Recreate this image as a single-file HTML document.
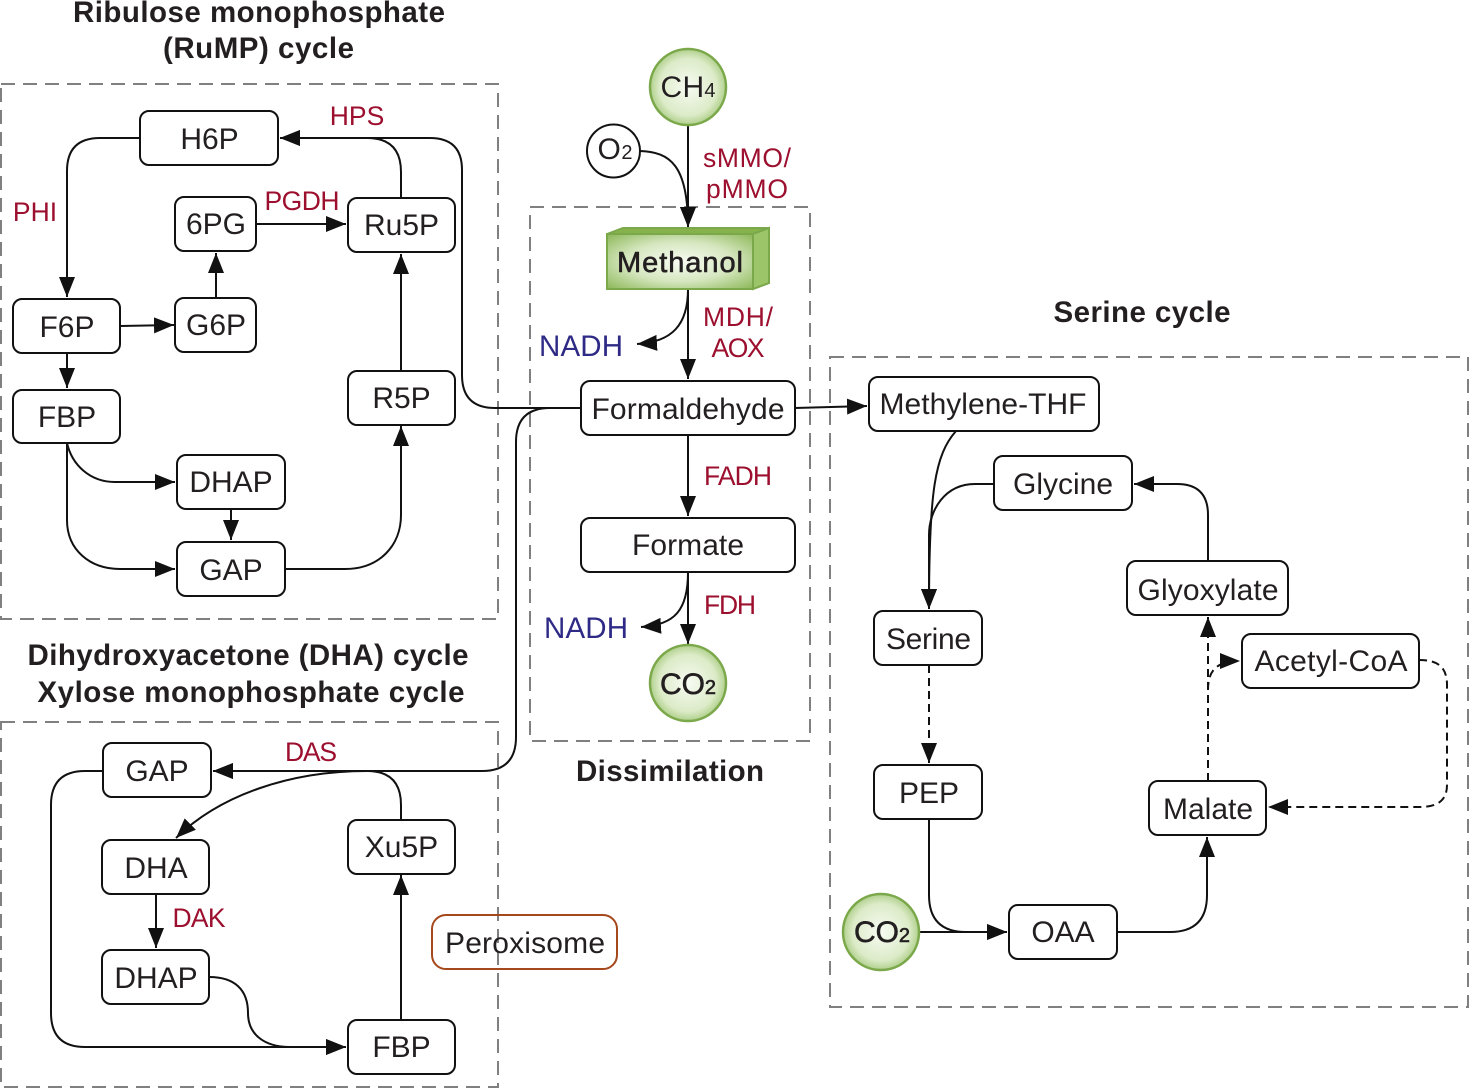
<!DOCTYPE html>
<html><head><meta charset="utf-8">
<style>
html,body{margin:0;padding:0;background:#fff}
svg{display:block}
text{font-family:"Liberation Sans",Arial,sans-serif;fill:#231f20;font-size:30px;text-anchor:middle}
.t{font-weight:bold;font-size:29.5px}
.r{fill:#9c0f2e;font-size:26.5px}
.b{fill:#2e2a86;font-size:29.5px}
.n rect{fill:#fff;stroke:#111;stroke-width:2}
.d{fill:none;stroke:#808080;stroke-width:2;stroke-dasharray:14 8}
.c path{fill:none;stroke:#111;stroke-width:2}
.k path{stroke-dasharray:8 5}
</style></head><body>
<svg width="1469" height="1088" viewBox="0 0 1469 1088" xmlns="http://www.w3.org/2000/svg">
<defs>
<marker id="a" markerUnits="userSpaceOnUse" markerWidth="22" markerHeight="16" refX="20" refY="8" orient="auto"><path d="M0 0L20 8L0 16Z" fill="#111"/></marker>
<radialGradient id="g"><stop offset="0" stop-color="#f8fbf3"/><stop offset=".75" stop-color="#dcebc8"/><stop offset="1" stop-color="#b0d08c"/></radialGradient>
<radialGradient id="m" r=".72"><stop offset="0" stop-color="#f8fbf3"/><stop offset=".5" stop-color="#d6e7c0"/><stop offset="1" stop-color="#88b552"/></radialGradient>
</defs>

<rect class="d" x="1" y="84" width="497" height="535"/>
<rect class="d" x="530" y="207" width="280" height="534"/>
<rect class="d" x="830" y="357" width="638" height="650"/>
<rect class="d" x="1" y="722" width="497" height="365"/>

<g class="c">
<path d="M581 408H495Q462 408 462 375V170Q462 138 430 138H280" marker-end="url(#a)"/>
<path d="M401 198V172Q401 138 367 138H280" marker-end="url(#a)"/>
<path d="M140 138H100Q67 138 67 171V297" marker-end="url(#a)"/>
<path d="M216 298V253" marker-end="url(#a)"/>
<path d="M256 224H346" marker-end="url(#a)"/>
<path d="M120 326L174 325" marker-end="url(#a)"/>
<path d="M67 353V388" marker-end="url(#a)"/>
<path d="M67 443C72 465 90 482 115 482H175" marker-end="url(#a)"/>
<path d="M67 443V520C67 550 90 569 120 569H175" marker-end="url(#a)"/>
<path d="M231 509V540" marker-end="url(#a)"/>
<path d="M285 569H345C380 569 401 545 401 515V426" marker-end="url(#a)"/>
<path d="M401 371V254" marker-end="url(#a)"/>

<path d="M688 122V227" marker-end="url(#a)"/>
<path d="M640 151C670 152 688 165 688 227" marker-end="url(#a)"/>
<path d="M688 289V379" marker-end="url(#a)"/>
<path d="M688 289C688 325 672 342 637 344" marker-end="url(#a)"/>
<path d="M688 435V516" marker-end="url(#a)"/>
<path d="M688 572V644" marker-end="url(#a)"/>
<path d="M688 572C688 610 675 625 641 627" marker-end="url(#a)"/>
<path d="M795 408L867 406" marker-end="url(#a)"/>

<path d="M581 408H550Q516 408 516 442V737Q516 771 482 771H213" marker-end="url(#a)"/>
<path d="M401 820V805Q401 771 367 771H213" marker-end="url(#a)"/>
<path d="M367 771C290 771 220 795 176 838" marker-end="url(#a)"/>
<path d="M103 771H85Q51 771 51 805V1013Q51 1047 85 1047H346" marker-end="url(#a)"/>
<path d="M156 894V948" marker-end="url(#a)"/>
<path d="M209 977C235 977 248 990 248 1013C248 1035 265 1047 290 1047H346" marker-end="url(#a)"/>
<path d="M401 1020V875" marker-end="url(#a)"/>

<path d="M956 431C935 455 929 490 929 609" marker-end="url(#a)"/>
<path d="M994 484H975C945 484 929 510 929 535V609" marker-end="url(#a)"/>
<path d="M1208 561V515Q1208 484 1177 484H1134" marker-end="url(#a)"/>
<path d="M929 819V895Q929 932 966 932H1007" marker-end="url(#a)"/>
<path d="M918 932H1007" marker-end="url(#a)"/>
<path d="M1117 932H1170Q1207 932 1207 895V837" marker-end="url(#a)"/>
</g>
<g class="c k">
<path d="M929 665V763" marker-end="url(#a)"/>
<path d="M1208 781V617" marker-end="url(#a)"/>
<path d="M1208 781V690C1208 672 1215 661 1240 661" marker-end="url(#a)"/>
<path d="M1419 660C1438 660 1447 667 1447 685V785C1447 800 1438 807 1420 807H1268" marker-end="url(#a)"/>
</g>

<g class="n">
<rect x="140" y="111" width="138" height="54" rx="9"/>
<rect x="175" y="197" width="81" height="54" rx="9"/>
<rect x="348" y="198" width="107" height="54" rx="9"/>
<rect x="13" y="299" width="107" height="54" rx="9"/>
<rect x="175" y="298" width="81" height="54" rx="9"/>
<rect x="13" y="390" width="107" height="53" rx="9"/>
<rect x="348" y="371" width="107" height="54" rx="9"/>
<rect x="177" y="455" width="108" height="54" rx="9"/>
<rect x="177" y="542" width="108" height="54" rx="9"/>
<rect x="581" y="381" width="214" height="54" rx="9"/>
<rect x="581" y="518" width="214" height="54" rx="9"/>
<rect x="869" y="377" width="230" height="54" rx="9"/>
<rect x="994" y="456" width="138" height="54" rx="9"/>
<rect x="1127" y="561" width="161" height="54" rx="9"/>
<rect x="874" y="611" width="108" height="54" rx="9"/>
<rect x="1242" y="634" width="177" height="54" rx="9"/>
<rect x="874" y="765" width="108" height="54" rx="9"/>
<rect x="1149" y="781" width="117" height="54" rx="9"/>
<rect x="1009" y="905" width="108" height="54" rx="9"/>
<rect x="103" y="743" width="108" height="54" rx="9"/>
<rect x="348" y="820" width="107" height="54" rx="9"/>
<rect x="102" y="840" width="107" height="54" rx="9"/>
<rect x="102" y="950" width="107" height="54" rx="9"/>
<rect x="348" y="1020" width="107" height="54" rx="9"/>
<rect x="432" y="915" width="185" height="54" rx="14" style="fill:none;stroke:#a5481c"/>
</g>

<circle cx="688" cy="87" r="38" fill="url(#g)" stroke="#7ba84a" stroke-width="2.5"/>
<circle cx="613.5" cy="151" r="26.5" fill="#fff" stroke="#111" stroke-width="2"/>
<circle cx="688" cy="683" r="38" fill="url(#g)" stroke="#7ba84a" stroke-width="2.5"/>
<circle cx="881" cy="932" r="38" fill="url(#g)" stroke="#7ba84a" stroke-width="2.5"/>
<path d="M607 234L623 228H769L753 234Z" fill="#85b24a" stroke="#7ba84a" stroke-width="2"/>
<path d="M753 234L769 228V283L753 289Z" fill="#9cc56a" stroke="#7ba84a" stroke-width="2"/>
<rect x="607" y="234" width="146" height="55" fill="url(#m)" stroke="#7ba84a" stroke-width="2"/>

<text x="259" y="22" class="t" textLength="372">Ribulose monophosphate</text>
<text x="258.5" y="58" class="t" textLength="191">(RuMP) cycle</text>
<text x="248" y="665" class="t" textLength="441">Dihydroxyacetone (DHA) cycle</text>
<text x="251" y="702" class="t" textLength="427">Xylose monophosphate cycle</text>
<text x="1142" y="322" class="t" textLength="177">Serine cycle</text>
<text x="670" y="781" class="t" textLength="188">Dissimilation</text>

<text x="209.5" y="149">H6P</text>
<text x="216" y="234">6PG</text>
<text x="401.5" y="235">Ru5P</text>
<text x="67" y="337">F6P</text>
<text x="216" y="335">G6P</text>
<text x="67" y="427">FBP</text>
<text x="401.5" y="408">R5P</text>
<text x="231" y="492">DHAP</text>
<text x="231" y="580">GAP</text>
<text x="688" y="419" textLength="193">Formaldehyde</text>
<text x="688" y="555" textLength="112">Formate</text>
<text x="983" y="414" textLength="207">Methylene-THF</text>
<text x="1063" y="494" textLength="100">Glycine</text>
<text x="1208" y="600" textLength="141">Glyoxylate</text>
<text x="928.5" y="649" textLength="85">Serine</text>
<text x="1331" y="671" textLength="153">Acetyl-CoA</text>
<text x="929" y="803">PEP</text>
<text x="1208" y="819" textLength="90">Malate</text>
<text x="1063" y="942">OAA</text>
<text x="157" y="781">GAP</text>
<text x="401.5" y="857">Xu5P</text>
<text x="156" y="878">DHA</text>
<text x="156" y="988">DHAP</text>
<text x="401.5" y="1057">FBP</text>
<text x="525" y="953" textLength="160">Peroxisome</text>

<text x="680" y="272" style="font-size:29px" stroke="#231f20" stroke-width=".6" textLength="126">Methanol</text>
<text x="688" y="97" textLength="55">CH<tspan style="font-size:20px">4</tspan></text>
<text x="615" y="159" textLength="35">O<tspan style="font-size:20px">2</tspan></text>
<text x="688" y="694" stroke="#231f20" stroke-width=".6" textLength="56">CO<tspan style="font-size:20px">2</tspan></text>
<text x="882" y="942" stroke="#231f20" stroke-width=".6" textLength="56">CO<tspan style="font-size:20px">2</tspan></text>

<text x="357" y="125" class="r">HPS</text>
<text x="35" y="221" class="r">PHI</text>
<text x="302" y="210" class="r" textLength="75">PGDH</text>
<text x="747" y="167" class="r" textLength="88">sMMO/</text>
<text x="747" y="198" class="r" textLength="82">pMMO</text>
<text x="738" y="326" class="r" textLength="70">MDH/</text>
<text x="738" y="357" class="r" textLength="53">AOX</text>
<text x="738" y="485" class="r" textLength="68">FADH</text>
<text x="730" y="614" class="r" textLength="52">FDH</text>
<text x="311" y="761" class="r" textLength="52">DAS</text>
<text x="199" y="927" class="r" textLength="53">DAK</text>
<text x="581" y="356" class="b" textLength="84">NADH</text>
<text x="586" y="638" class="b" textLength="84">NADH</text>
</svg>
</body></html>
